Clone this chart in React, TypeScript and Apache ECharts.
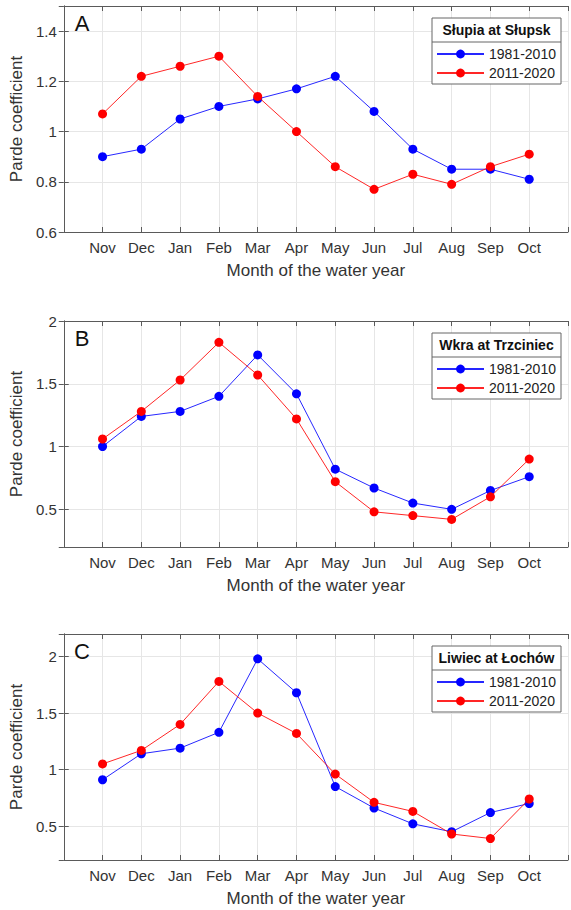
import React, { useEffect, useRef } from "react";
import * as echarts from "echarts";

const months = ["Nov", "Dec", "Jan", "Feb", "Mar", "Apr", "May", "Jun", "Jul", "Aug", "Sep", "Oct"];
const seriesNames = ["1981-2010", "2011-2020"];

const slupia1981 = [0.9, 0.93, 1.05, 1.1, 1.13, 1.17, 1.22, 1.08, 0.93, 0.85, 0.85, 0.81];
const slupia2011 = [1.07, 1.22, 1.26, 1.3, 1.14, 1.0, 0.86, 0.77, 0.83, 0.79, 0.86, 0.91];
const wkra1981 = [1.0, 1.24, 1.28, 1.4, 1.73, 1.42, 0.82, 0.67, 0.55, 0.5, 0.65, 0.76];
const wkra2011 = [1.06, 1.28, 1.53, 1.83, 1.57, 1.22, 0.72, 0.48, 0.45, 0.42, 0.6, 0.9];
const liwiec1981 = [0.91, 1.14, 1.19, 1.33, 1.98, 1.68, 0.85, 0.66, 0.52, 0.45, 0.62, 0.7];
const liwiec2011 = [1.05, 1.17, 1.4, 1.78, 1.5, 1.32, 0.96, 0.71, 0.63, 0.43, 0.39, 0.74];

const panelLetters = ["A", "B", "C"];
const panelTitles = ["Słupia at Słupsk", "Wkra at Trzciniec", "Liwiec at Łochów"];
const panelSeries = [
  [slupia1981, slupia2011],
  [wkra1981, wkra2011],
  [liwiec1981, liwiec2011],
];
const yMins = [0.6, 0.2, 0.2];
const yMaxs = [1.5, 2, 2.2];
const showMinLabels = [true, false, false];
const showMaxLabels = [false, true, false];

const FONT = "'Liberation Sans', Arial, sans-serif";
const TEXT = "#333333";
const AXIS = "#5a5a5a";
const GRIDC = "#e6e6e6";
const COLORS = ["#0000ff", "#ff0000"];

export default function App() {
  const ref = useRef<HTMLDivElement>(null);
  useEffect(() => {
    if (!ref.current) return;
    const chart = echarts.init(ref.current, null, { renderer: "svg" });
    const tops = [6, 321, 634];
    const gridH = 226;
    const gridL = 62;
    const gridW = 511;

    const grids: any[] = [];
    const xAxes: any[] = [];
    const yAxes: any[] = [];
    const series: any[] = [];
    const legends: any[] = [];
    const graphics: any[] = [];

    tops.forEach((top, p) => {
      grids.push({ left: gridL, top, width: gridW, height: gridH });
      xAxes.push({
        type: "value",
        gridIndex: p,
        position: "bottom",
        min: 0,
        max: 13,
        interval: 1,
        name: "Month of the water year",
        nameLocation: "middle",
        nameGap: 30,
        nameTextStyle: { fontSize: 17, color: TEXT, fontFamily: FONT },
        axisLine: { show: true, lineStyle: { color: AXIS, width: 1 } },
        axisTick: { show: true, inside: true, length: 5, lineStyle: { color: AXIS } },
        axisLabel: {
          fontSize: 15,
          color: TEXT,
          fontFamily: FONT,
          margin: 8,
          formatter: (v: number) => months[v - 1] ?? "",
        },
        splitLine: { show: true, lineStyle: { color: GRIDC, width: 1 } },
      });
      xAxes.push({
        type: "value",
        gridIndex: p,
        position: "top",
        min: 0,
        max: 13,
        interval: 1,
        axisLine: { show: true, lineStyle: { color: AXIS, width: 1 } },
        axisTick: { show: true, inside: true, length: 5, lineStyle: { color: AXIS } },
        axisLabel: { show: false },
        splitLine: { show: false },
      });
      yAxes.push({
        type: "value",
        gridIndex: p,
        position: "left",
        min: yMins[p],
        max: yMaxs[p],
        splitNumber: 4,
        name: "Parde coefficient",
        nameLocation: "middle",
        nameGap: 31,
        nameTextStyle: { fontSize: 17, color: TEXT, fontFamily: FONT },
        axisLine: { show: true, lineStyle: { color: AXIS, width: 1 } },
        axisTick: { show: true, inside: true, length: 5, lineStyle: { color: AXIS } },
        axisLabel: {
          fontSize: 15,
          color: TEXT,
          fontFamily: FONT,
          margin: 7,
          showMaxLabel: showMaxLabels[p],
          showMinLabel: showMinLabels[p],
        },
        splitLine: { show: true, lineStyle: { color: GRIDC, width: 1 } },
      });
      yAxes.push({
        type: "value",
        gridIndex: p,
        position: "right",
        min: yMins[p],
        max: yMaxs[p],
        splitNumber: 4,
        axisLine: { show: true, lineStyle: { color: AXIS, width: 1 } },
        axisTick: { show: true, inside: true, length: 5, lineStyle: { color: AXIS } },
        axisLabel: { show: false },
        splitLine: { show: false },
      });
      panelSeries[p].forEach((vals, s) => {
        series.push({
          type: "line",
          name: seriesNames[s],
          xAxisIndex: 2 * p,
          yAxisIndex: 2 * p,
          data: vals.map((v, i) => [i + 1, v]),
          symbol: "circle",
          symbolSize: 9,
          showSymbol: true,
          lineStyle: { color: COLORS[s], width: 1, opacity: 0.85 },
          itemStyle: { color: COLORS[s] },
          z: 3 + s,
        });
      });
      legends.push({
        orient: "vertical",
        left: 436,
        top: top + 41,
        padding: 0,
        itemWidth: 47,
        itemHeight: 11,
        itemGap: 5,
        selectedMode: false,
        data: seriesNames,
        textStyle: { fontSize: 14, color: "#222", fontFamily: FONT, lineHeight: 14, padding: [0, 0, 0, 0] },
        z: 12,
      });
      graphics.push({
        type: "rect",
        shape: { x: 432, y: top + 12, width: 129, height: 66 },
        style: { fill: "#ffffff", stroke: "#666666", lineWidth: 1 },
        z: 10,
      });
      graphics.push({
        type: "line",
        shape: { x1: 432, y1: top + 36, x2: 561, y2: top + 36 },
        style: { stroke: "#666666", lineWidth: 1 },
        z: 11,
      });
      graphics.push({
        type: "text",
        x: 496.5,
        y: top + 24,
        style: {
          text: panelTitles[p],
          fontSize: 14,
          fontWeight: "bold",
          fill: "#111",
          fontFamily: FONT,
          align: "center",
          verticalAlign: "middle",
        },
        z: 11,
      });
      graphics.push({
        type: "text",
        x: 82,
        y: top + 17,
        style: {
          text: panelLetters[p],
          fontSize: 22,
          fill: "#111",
          fontFamily: FONT,
          align: "center",
          verticalAlign: "middle",
        },
        z: 11,
      });
    });

    chart.setOption({
      animation: false,
      backgroundColor: "#ffffff",
      grid: grids,
      xAxis: xAxes,
      yAxis: yAxes,
      series,
      legend: legends,
      graphic: graphics,
    });
    return () => chart.dispose();
  }, []);
  return (
    <div
      ref={ref}
      style={{ position: "absolute", left: 0, top: 0, width: 571, height: 910 }}
    />
  );
}
